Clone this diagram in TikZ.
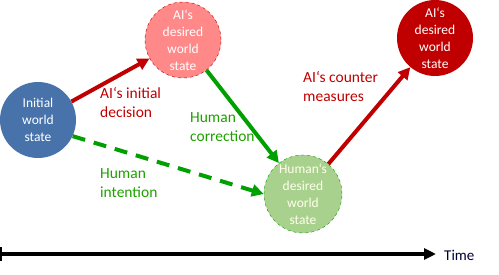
\documentclass[tikz,border=0pt]{standalone}
\usepackage{fontspec}
\setmainfont{Carlito}
\usetikzlibrary{arrows.meta}
\definecolor{initblue}{RGB}{71,114,170}
\definecolor{aipink}{RGB}{255,136,136}
\definecolor{aired}{RGB}{192,0,0}
\definecolor{humfill}{RGB}{169,209,142}
\definecolor{humgreen}{RGB}{0,160,0}
\definecolor{labgreen}{RGB}{30,160,0}
\begin{document}
\begin{tikzpicture}[x=1pt,y=1pt,
  state/.style={circle,minimum size=#1,inner sep=0pt,align=center,text=white,
    font=\fontsize{13.5}{17}\selectfont},
  state/.default=76pt,
  lab/.style={anchor=north west,align=left,inner sep=0pt,font=\fontsize{15.5}{19}\selectfont},
  conn/.style={line width=4pt,-{Triangle[length=12pt,width=12pt]}},
]
\useasboundingbox (0,0) rectangle (499,274);
\node[state,fill=initblue] (init) at (38,154) {Initial\\world\\state};
\node[state,fill=aipink,draw=aired,dashed,thin] (aid1) at (183,234) {AI‘s\\desired\\world\\state};
\node[state,fill=aired] (aid2) at (435,236) {AI‘s\\desired\\world\\state};
\node[state=78pt,fill=humfill,draw=humgreen,dashed,thin,text=white!92!yellow] (hum) at (303,80) {Human‘s\\desired\\world\\state};
% connectors
\draw[conn,aired] (init) -- (aid1);
\draw[conn,humgreen] (aid1) -- (hum);
\draw[conn,humgreen,dash pattern=on 13pt off 9pt] (init.-25) -- (hum.west);
\draw[conn,aired] (hum) -- (aid2);
% labels
\node[lab,text=aired] (l1) at (100,187) {AI‘s initial\\decision};
\node[lab,text=labgreen] (l2) at (190,162) {Human\\correction};
\node[lab,text=labgreen] (l3) at (100,106) {Human\\intention};
\node[lab,text=aired] (l4) at (303,203) {AI‘s counter\\measures};
% time axis
\coordinate (t0) at (0,20);
\coordinate (t1) at (436,20);
\draw[line width=4pt,-{Triangle[length=12pt,width=11pt]}] (t0) -- (t1);
\draw[line width=1.5pt] (0.75,13) -- (0.75,27);
\node[anchor=west,inner sep=0pt,font=\fontsize{15}{18}\selectfont,text=black!80!blue] (time) at (444,19) {Time};
\end{tikzpicture}
\end{document}
